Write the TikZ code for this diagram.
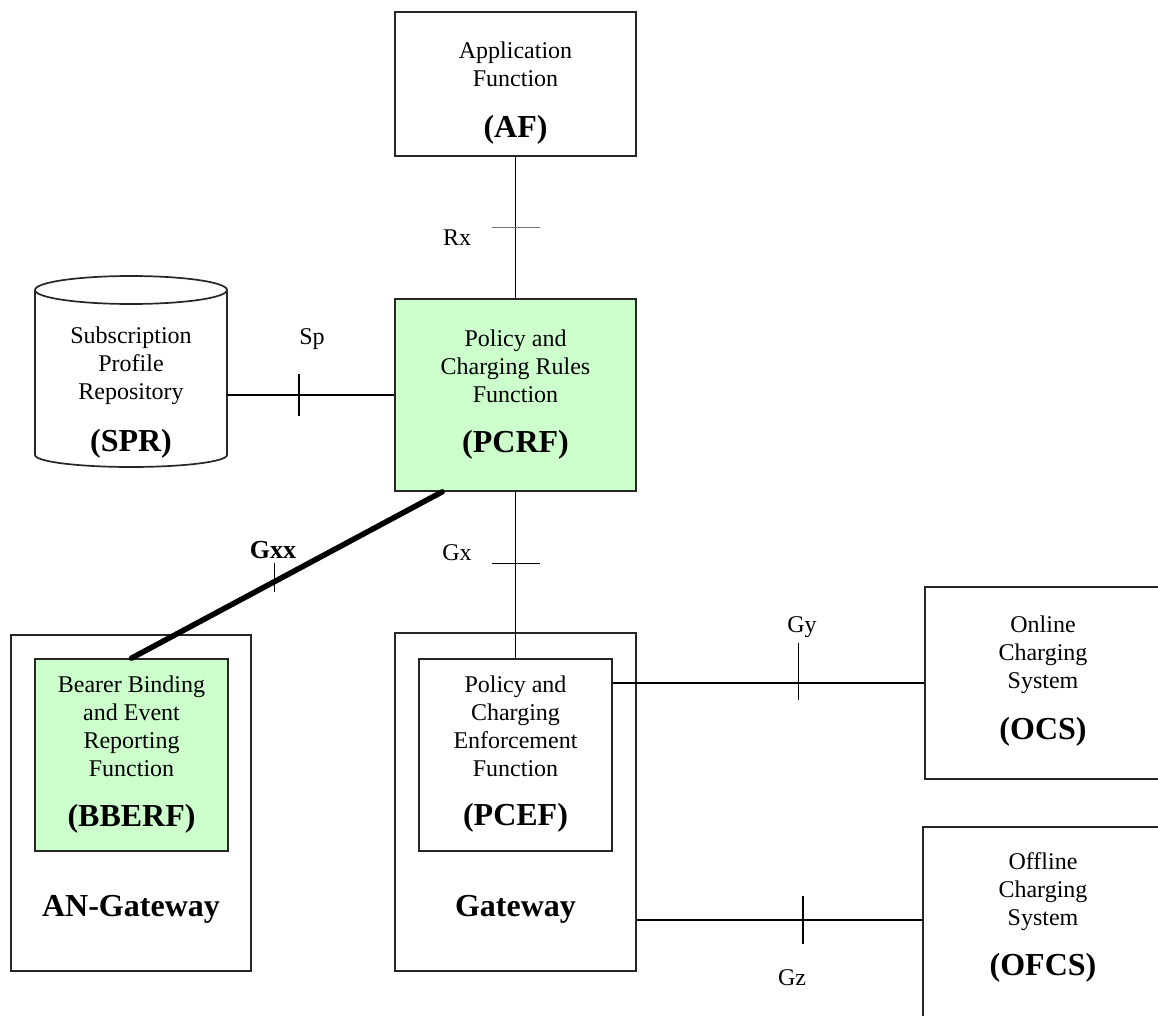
\documentclass[tikz,border=0pt]{standalone}
\usepackage{fontspec}
\setmainfont{Liberation Serif}
\usetikzlibrary{calc}
\definecolor{pgreen}{HTML}{CCFFCC}
\tikzset{
  box/.style={draw=black!85, line width=1.7pt, rectangle, inner sep=0pt},
  gbox/.style={box, fill=pgreen},
  txt/.style={align=center, font=\fontsize{24}{28}\selectfont, inner sep=0pt},
  btxt/.style={font=\fontsize{32}{36}\selectfont\bfseries, inner sep=0pt},
  lbl/.style={font=\fontsize{24}{28}\selectfont, inner sep=0pt},
  conn/.style={line width=1.8pt},
  tickmark/.style={line width=1.3pt},
}
\begin{document}
\begin{tikzpicture}[x=1pt,y=-1pt]
\useasboundingbox (0,0) rectangle (1158,1016);

% boxes
\node[box, minimum width=241pt, minimum height=144pt] (af) at (515.5,84) {};
\node[gbox, minimum width=241pt, minimum height=192pt] (pcrf) at (515.5,395) {};
\node[box, minimum width=241pt, minimum height=338pt] (gw) at (515.5,802) {};
\node[box, minimum width=193pt, minimum height=192pt] (pcef) at (515.5,755) {};
\node[box, minimum width=240pt, minimum height=336pt] (angw) at (131,803) {};
\node[gbox, minimum width=193pt, minimum height=192pt] (bberf) at (131.5,755) {};
\node[box, minimum width=240pt, minimum height=192pt] (ocs) at (1045,683) {};
\node[box, minimum width=240pt, minimum height=200pt] (ofcs) at (1043,927) {};

% SPR cylinder
\node[inner sep=0pt, minimum width=192pt, minimum height=191pt] (spr) at (131,371.5) {};
\draw[draw=black!85, line width=1.7pt] (35,290) -- (35,455)
  arc[start angle=180, end angle=360, x radius=96pt, y radius=12pt] -- (227,290);
\draw[draw=black!85, line width=1.7pt] (131,290) ellipse [x radius=96pt, y radius=14pt];

% texts
\node[txt] (aft) at (515.5,64) {Application\\Function};
\node[btxt] (afb) at (515.5,130) {(AF)};
\node[txt] (pcrft) at (515.5,366) {Policy and\\Charging Rules\\Function};
\node[btxt] (pcrfb) at (515.5,445) {(PCRF)};
\node[txt] (sprt) at (131,366) {Subscription\\Profile\\Repository};
\node[btxt] (sprb) at (131,444) {(SPR)};
\node[txt] (pceft) at (515.5,726) {Policy and\\Charging\\Enforcement\\Function};
\node[btxt] (pcefb) at (515.5,818) {(PCEF)};
\node[txt] (bberft) at (131.5,726) {Bearer Binding\\and Event\\Reporting\\Function};
\node[btxt] (bberfb) at (131.5,819) {(BBERF)};
\node[btxt] (gwt) at (515.5,909) {Gateway};
\node[btxt] (angwt) at (131,909) {AN-Gateway};
\node[txt] (ocst) at (1043,655) {Online\\Charging\\System};
\node[btxt] (ocsb) at (1043,732) {(OCS)};
\node[txt] (ofcst) at (1043,892) {Offline\\Charging\\System};
\node[btxt] (ofcsb) at (1043,968) {(OFCS)};

% connectors
\draw[conn] (af.south) -- (pcrf.north);
\draw[conn] (spr.east |- pcrf.west) -- (pcrf.west);
\draw[conn] (pcrf.south) -- (pcef.north);
\draw[conn] (pcef.east |- ocs.west) -- (ocs.west);
\coordinate (gzend) at ([yshift=7pt]ofcs.west);
\draw[conn] (gw.east |- gzend) -- (gzend);
\coordinate (gxxa) at ([xshift=48pt]pcrf.south west);
\draw[line width=5.5pt, line cap=round] (gxxa) -- (bberf.north);

% tick marks
\coordinate (rxt) at ($(af.south)!0.5!(pcrf.north)$);
\draw[tickmark, draw=black!55] ([xshift=-24pt]rxt) -- ([xshift=24pt]rxt);
\coordinate (spt) at ($(spr.east |- pcrf.west)!0.43!(pcrf.west)$);
\draw[tickmark] ([yshift=21pt]spt) -- ([yshift=-21pt]spt);
\coordinate (gxt) at ($(pcrf.south)!0.43!(pcef.north)$);
\draw[tickmark] ([xshift=-24pt]gxt) -- ([xshift=24pt]gxt);
\coordinate (gxxt) at ($(gxxa)!0.54!(bberf.north)$);
\draw[tickmark] ([yshift=19pt]gxxt) -- ([yshift=-10pt]gxxt);
\coordinate (gyt) at ($(pcef.east |- ocs.west)!0.597!(ocs.west)$);
\draw[tickmark] ([yshift=40pt]gyt) -- ([yshift=-17pt]gyt);
\coordinate (gzt) at ($(gw.east |- gzend)!0.582!(gzend)$);
\draw[tickmark] ([yshift=24pt]gzt) -- ([yshift=-24pt]gzt);

% interface labels
\node[lbl] (rxl) at (457,238) {Rx};
\node[lbl] (spl) at (312,339) {Sp};
\node[lbl] (gxl) at (457,553) {Gx};
\node[font=\fontsize{26}{30}\selectfont\bfseries, inner sep=0pt] (gxxl) at (273,550) {Gxx};
\node[lbl] (gyl) at (802,627) {Gy};
\node[lbl] (gzl) at (792,978) {Gz};
\end{tikzpicture}
\end{document}
